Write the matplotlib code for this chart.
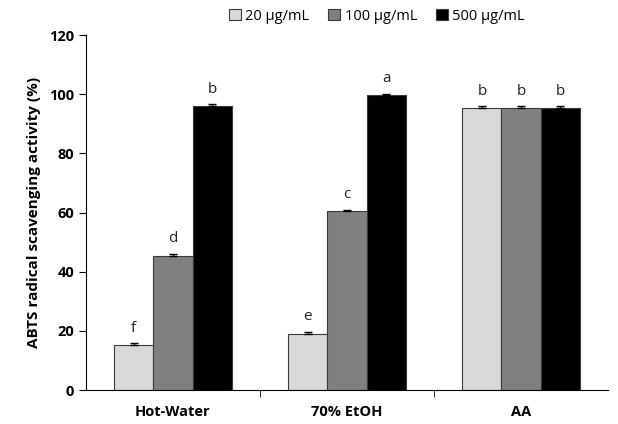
import matplotlib
matplotlib.use("Agg")
import matplotlib.pyplot as plt
import numpy as np

categories = ["Hot-Water", "70% EtOH", "AA"]
series_names = ["20 µg/mL", "100 µg/mL", "500 µg/mL"]
values = [
    [15.3, 18.8, 95.5],
    [45.2, 60.7, 95.5],
    [96.2, 99.7, 95.5],
]
errors = [
    [0.5, 0.9, 0.4],
    [0.9, 0.3, 0.4],
    [0.5, 0.5, 0.5],
]
letters = [
    ["f", "e", "b"],
    ["d", "c", "b"],
    ["b", "a", "b"],
]
colors = ["#d9d9d9", "#808080", "#000000"]

plt.rcParams['font.family'] = ['Open Sans', 'DejaVu Sans']

fig = plt.figure(figsize=(6.18, 4.24), dpi=100)
ax = fig.add_axes([0.139, 0.080, 0.845, 0.837])

x = np.arange(len(categories))
w = 0.225
for i in range(3):
    pos = x + (i - 1) * w
    ax.bar(pos, values[i], w, color=colors[i], edgecolor="#3a3a3a", linewidth=0.8,
           label=series_names[i], zorder=2)
    ax.errorbar(pos, values[i], yerr=[np.zeros(3), errors[i]], fmt="none",
                ecolor="black", elinewidth=1, capsize=3, capthick=1, zorder=3)
    for p, v, e, t in zip(pos, values[i], errors[i], letters[i]):
        ax.text(p, v + e + 2.5, t, ha="center", va="bottom", fontsize=11, color="#222222")

ax.set_xlim(-0.5, 2.5)
ax.set_ylim(0, 120)
ax.set_yticks(np.arange(0, 121, 20))
ax.set_xticks(x)
ax.set_xticklabels(categories, fontweight="bold", fontsize=10.5)
ax.set_xticks([0.5, 1.5], minor=True)
ax.tick_params(axis="x", which="major", length=0, pad=11)
ax.tick_params(axis="x", which="minor", length=5, direction="out")
ax.tick_params(axis="y", length=5, direction="out", labelsize=10.5)
for lab in ax.get_yticklabels():
    lab.set_fontweight("bold")
ax.set_ylabel("ABTS radical scavenging activity (%)", fontweight="bold", fontsize=11, labelpad=6)
ax.spines["top"].set_visible(False)
ax.spines["right"].set_visible(False)

fig.legend(loc="upper center", bbox_to_anchor=(0.61, 1.01), ncol=3, frameon=False,
           fontsize=10.5, handlelength=0.8, handleheight=0.8, columnspacing=1.3, handletextpad=0.3)

fig.savefig("out.png", dpi=100)
